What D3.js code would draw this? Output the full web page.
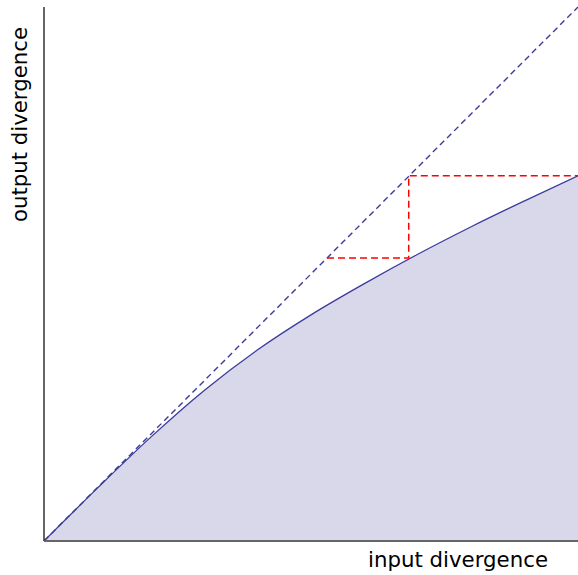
<!DOCTYPE html>
<html><head><meta charset="utf-8">
<script src="https://cdn.jsdelivr.net/npm/d3@7"></script>
<style>body{margin:0;background:#fff}svg{display:block}text{font-family:"DejaVu Sans",sans-serif;fill:#000}</style>
</head><body><svg id="c" width="578" height="575"></svg>
<script>
const curveX = [0, 0.1, 0.2, 0.3, 0.4, 0.5, 0.6, 0.7, 0.8, 0.9, 1.0];
const curveY = [0, 0.099, 0.1945, 0.282, 0.358, 0.4235, 0.482, 0.537, 0.5885, 0.637, 0.684];
const identX = [0, 1];
const cobwebX = [0.53, 0.683, 0.683, 1.0];
const cobwebY = [0.53, 0.53, 0.684, 0.684];
const xLabel = "input divergence";
const yLabel = "output divergence";

const svg = d3.select("#c");
const m = {l:44, r:0, t:7, b:34};
const W = 578, H = 575;
const x = d3.scaleLinear().domain([0,1]).range([m.l, W-m.r]);
const y = d3.scaleLinear().domain([0,1]).range([H-m.b, m.t]);
const cv = d3.curveMonotoneX;

const pts = curveX.map((v,i)=>[v, curveY[i]]);
svg.append("path").datum(pts)
  .attr("d", d3.area().x(d=>x(d[0])).y0(y(0)).y1(d=>y(d[1])).curve(cv))
  .attr("fill", "#d9d8ea");
svg.append("path").datum(identX.map(v=>[v,v]))
  .attr("d", d3.line().x(d=>x(d[0])).y(d=>y(d[1])))
  .attr("fill","none").attr("stroke","#3b3b9b").attr("stroke-width",1.4).attr("stroke-dasharray","6,4");
svg.append("path").datum(pts)
  .attr("d", d3.line().x(d=>x(d[0])).y(d=>y(d[1])).curve(cv))
  .attr("fill","none").attr("stroke","#3b3b9b").attr("stroke-width",1.3);
svg.append("path").datum(cobwebX.map((v,i)=>[v,cobwebY[i]]))
  .attr("d", d3.line().x(d=>x(d[0])).y(d=>y(d[1])))
  .attr("fill","none").attr("stroke","#ff0000").attr("stroke-width",1.5).attr("stroke-dasharray","7,4");

// axes
svg.append("line").attr("x1",x(0)).attr("x2",x(0)).attr("y1",y(0)).attr("y2",y(1))
  .attr("stroke","#000").attr("stroke-width",1.2);
svg.append("line").attr("x1",x(0)).attr("x2",x(1)).attr("y1",y(0)).attr("y2",y(0))
  .attr("stroke","#666").attr("stroke-width",2);

svg.append("text").attr("x",548).attr("y",567).attr("text-anchor","end")
  .attr("font-size",21).attr("textLength",180).attr("lengthAdjust","spacingAndGlyphs").text(xLabel);
svg.append("text").attr("transform","translate(27,124.5) rotate(-90)").attr("text-anchor","middle")
  .attr("font-size",21).attr("textLength",195).attr("lengthAdjust","spacingAndGlyphs").text(yLabel);
</script></body></html>
